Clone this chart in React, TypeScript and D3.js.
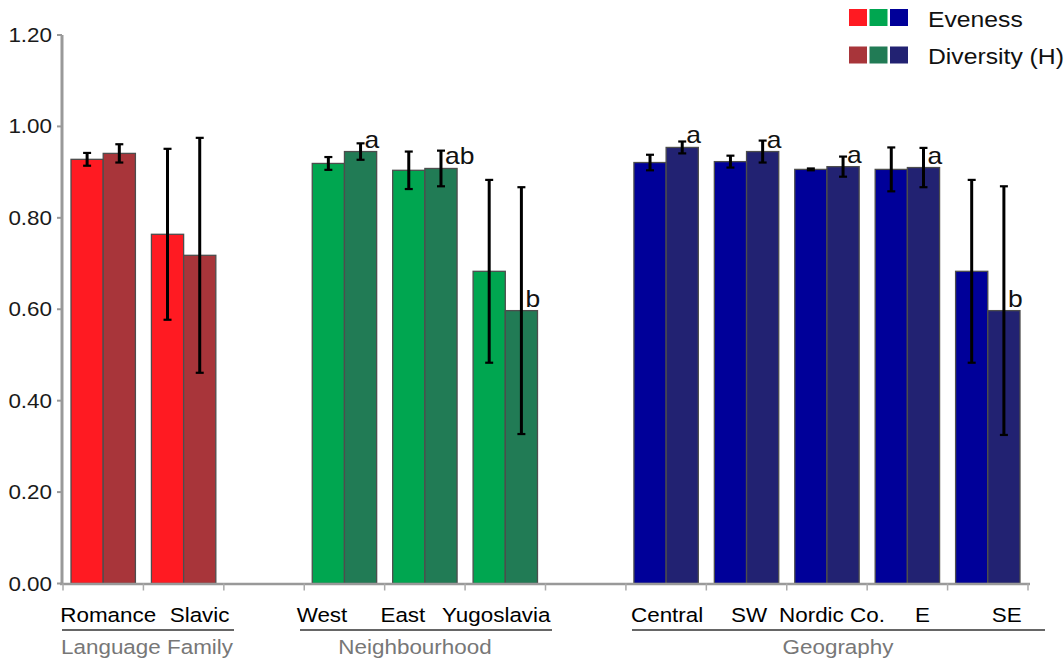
import React from "react";
import * as d3 from "d3";

// ---- data ----
const slots = ["Romance", "Slavic", "gap1", "West", "East", "Yugoslavia", "gap2", "Central", "SW", "Nordic Co.", "E", "SE"];
const slotGroup = [0, 0, -1, 1, 1, 1, -1, 2, 2, 2, 2, 2];
const evenness = [0.928, 0.764, null, 0.919, 0.904, 0.683, null, 0.921, 0.923, 0.906, 0.906, 0.683];
const evennessErr = [0.014, 0.187, null, 0.014, 0.041, 0.2, null, 0.017, 0.013, 0.002, 0.048, 0.2];
const diversity = [0.941, 0.718, null, 0.945, 0.908, 0.597, null, 0.954, 0.945, 0.912, 0.91, 0.597];
const diversityErr = [0.02, 0.257, null, 0.018, 0.039, 0.27, null, 0.013, 0.024, 0.022, 0.043, 0.272];
const sigLetters = ["", "", "", "a", "ab", "b", "", "a", "a", "a", "a", "b"];
const groupNames = ["Language Family", "Neighbourhood", "Geography"];
const yTicks = [0, 0.2, 0.4, 0.6, 0.8, 1.0, 1.2];
const seriesNames = ["Eveness", "Diversity (H)"];

// ---- styles / layout ----
const evenColors = ["#FF1A22", "#00A650", "#000099"];
const divColors = ["#A8353A", "#217B55", "#222272"];
const labelNudge = [5, 16, 0, -22.5, -22, -9, 0, 1, 2.5, 5, 15, 19];
const groupLines = [
  [62, 234, 147],
  [300, 552, 415],
  [632, 1045, 838],
];
const FONT = "'Liberation Sans', Arial, Helvetica, sans-serif";
const SX = 1.15;

function T({ x, y, size = 19.5, anchor = "start", fill = "#111", children }: any) {
  return (
    <text
      transform={`translate(${x},${y}) scale(${SX},1)`}
      fontFamily={FONT}
      fontSize={size}
      textAnchor={anchor}
      fill={fill}
    >
      {children}
    </text>
  );
}

export default function App() {
  const W = 1064, H = 661;
  const y = d3.scaleLinear().domain([0, 1.2]).range([583.5, 35]);
  const x = d3.scaleBand<string>().domain(slots).range([63, 1028]).padding(0);
  const bw = x.bandwidth();
  const barW = 32.2;
  const off = (bw - 2 * barW) / 2;
  const axisY = y(0);

  const bars: any[] = [];
  slots.forEach((s, i) => {
    const g = slotGroup[i];
    if (g < 0) return;
    const x0 = (x(s) as number) + off;
    const series = [
      { v: evenness[i], e: evennessErr[i], c: evenColors[g], xs: x0 },
      { v: diversity[i], e: diversityErr[i], c: divColors[g], xs: x0 + barW },
    ];
    series.forEach((d, k) => {
      bars.push(
        <rect key={`b${i}-${k}`} x={d.xs} y={y(d.v as number)} width={barW} height={axisY - y(d.v as number)}
          fill={d.c} stroke="#4d4d4d" strokeWidth={1.3} />
      );
    });
  });

  const errs: any[] = [];
  slots.forEach((s, i) => {
    const g = slotGroup[i];
    if (g < 0) return;
    const x0 = (x(s) as number) + off;
    [
      { v: evenness[i] as number, e: evennessErr[i] as number, cx: x0 + barW / 2 },
      { v: diversity[i] as number, e: diversityErr[i] as number, cx: x0 + barW * 1.5 },
    ].forEach((d, k) => {
      const yt = y(d.v + d.e), yb = y(d.v - d.e);
      errs.push(
        <g key={`e${i}-${k}`} stroke="#000">
          <line x1={d.cx} x2={d.cx} y1={yt} y2={yb} strokeWidth={3} />
          <line x1={d.cx - 4} x2={d.cx + 4} y1={yt} y2={yt} strokeWidth={2.2} />
          <line x1={d.cx - 4} x2={d.cx + 4} y1={yb} y2={yb} strokeWidth={2.2} />
        </g>
      );
    });
    if (sigLetters[i]) {
      errs.push(
        <T key={`l${i}`} x={x0 + barW * 1.5 + 4} y={y(diversity[i] as number) - 4} size={23}>
          {sigLetters[i]}
        </T>
      );
    }
  });

  return (
    <svg width={W} height={H} style={{ position: "absolute", left: 0, top: 0, background: "#fff" }}>
      {/* y axis */}
      <line x1={62} x2={62} y1={y(1.2)} y2={axisY + 1} stroke="#999" strokeWidth={3} />
      {yTicks.map((t) => (
        <g key={t}>
          <line x1={57} x2={62} y1={y(t)} y2={y(t)} stroke="#999" strokeWidth={2} />
          <T x={52} y={y(t) + 7} anchor="end" fill="#1a1a1a">{t.toFixed(2)}</T>
        </g>
      ))}
      {bars}
      {/* x axis */}
      <line x1={60} x2={1030} y1={axisY + 0.5} y2={axisY + 0.5} stroke="#999" strokeWidth={2.5} />
      {slots.map((s) => (
        <line key={s} x1={x(s) as number} x2={x(s) as number} y1={axisY} y2={axisY + 7} stroke="#aaa" strokeWidth={1.5} />
      ))}
      <line x1={1028} x2={1028} y1={axisY} y2={axisY + 7} stroke="#aaa" strokeWidth={1.5} />
      {errs}
      {/* category labels */}
      {slots.map((s, i) =>
        slotGroup[i] < 0 ? null : (
          <T key={`c${s}`} x={(x(s) as number) + bw / 2 + labelNudge[i]} y={622} anchor="middle" fill="#000">
            {s}
          </T>
        )
      )}
      {groupNames.map((gname, g) => (
        <g key={gname}>
          <line x1={groupLines[g][0]} x2={groupLines[g][1]} y1={630} y2={630} stroke="#666" strokeWidth={2} />
          <T x={groupLines[g][2]} y={654} anchor="middle" fill="#777">{gname}</T>
        </g>
      ))}
      {/* legend */}
      {seriesNames.map((nm, r) => (
        <g key={nm}>
          {(r === 0 ? evenColors : divColors).map((c, k) => (
            <rect key={c} x={849 + k * 20.5} y={9 + r * 37.5} width={18} height={17} fill={c} />
          ))}
          <T x={928} y={27 + r * 37} size={21.5} fill="#111">{nm}</T>
        </g>
      ))}
    </svg>
  );
}
